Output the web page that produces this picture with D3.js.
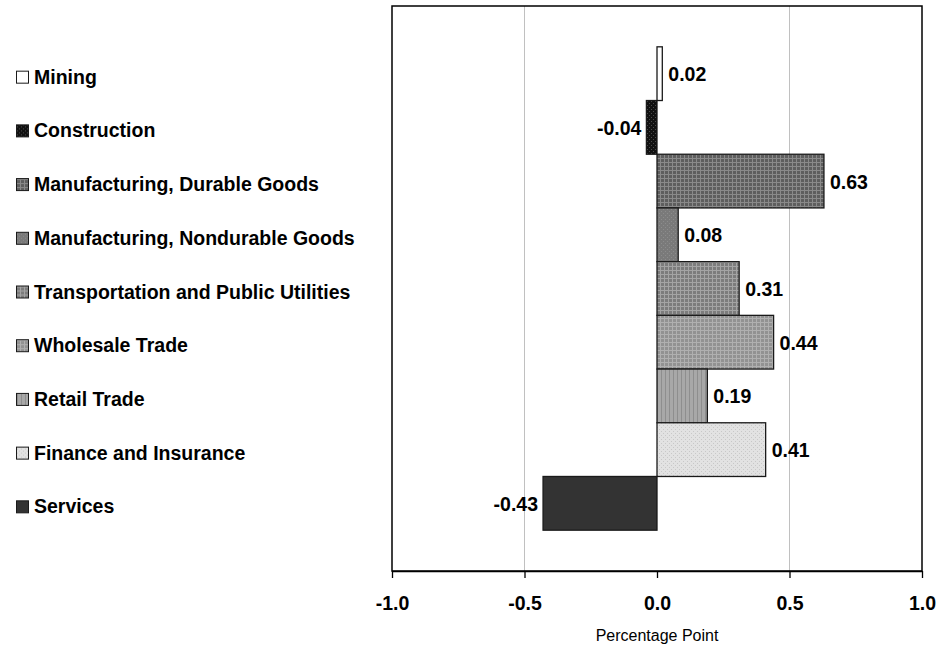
<!DOCTYPE html>
<html>
<head>
<meta charset="utf-8">
<script src="https://cdn.jsdelivr.net/npm/d3@7"></script>
<style>
  body { margin: 0; background: #fff; }
  text { font-family: "Liberation Sans", Arial, sans-serif; }
</style>
</head>
<body>
<svg id="chart" width="938" height="651"></svg>
<script>
// ----------

const CATEGORIES = [
  "Mining",
  "Construction",
  "Manufacturing, Durable Goods",
  "Manufacturing, Nondurable Goods",
  "Transportation and Public Utilities",
  "Wholesale Trade",
  "Retail Trade",
  "Finance and Insurance",
  "Services"
];
const VALUES = [0.02, -0.04, 0.63, 0.08, 0.31, 0.44, 0.19, 0.41, -0.43];
const VALUE_LABELS = ["0.02", "-0.04", "0.63", "0.08", "0.31", "0.44", "0.19", "0.41", "-0.43"];
const X_TICKS = [-1.0, -0.5, 0.0, 0.5, 1.0];
const X_GRID = [-0.5, 0.5];
const X_TITLE = "Percentage Point";

// fill: base tone + dot tone for the little texture
const FILLS = [
  { base: "#ffffff", dot: "#ffffff", kind: "solid" },
  { base: "#111111", dot: "#4a4a4a", kind: "dots" },
  { base: "#5e5e5e", dot: "#8a8a8a", kind: "grid" },
  { base: "#7a7a7a", dot: "#8c8c8c", kind: "dots" },
  { base: "#7c7c7c", dot: "#a4a4a4", kind: "grid" },
  { base: "#929292", dot: "#b0b0b0", kind: "grid" },
  { base: "#a8a8a8", dot: "#8e8e8e", kind: "vstripe" },
  { base: "#e2e2e2", dot: "#c8c8c8", kind: "dots" },
  { base: "#333333", dot: "#333333", kind: "solid" }
];

const BOLD_SIZE = 19.5;

// ----------

const svg = d3.select("#chart");
const margin = { left: 392, right: 16, top: 6, bottom: 80 };
const width = 938 - margin.left - margin.right;
const height = 651 - margin.top - margin.bottom;

const defs = svg.append("defs");
FILLS.forEach(function (f, i) {
  const p = defs.append("pattern")
    .attr("id", "pat" + i)
    .attr("patternUnits", "userSpaceOnUse")
    .attr("width", 4)
    .attr("height", 4);
  p.append("rect").attr("width", 4).attr("height", 4).attr("fill", f.base);
  if (f.kind === "dots") {
    p.append("rect").attr("x", 1).attr("y", 1).attr("width", 1).attr("height", 1).attr("fill", f.dot);
    p.append("rect").attr("x", 3).attr("y", 3).attr("width", 1).attr("height", 1).attr("fill", f.dot);
  } else if (f.kind === "grid") {
    p.append("rect").attr("x", 0).attr("y", 0).attr("width", 4).attr("height", 1).attr("fill", f.dot);
    p.append("rect").attr("x", 0).attr("y", 0).attr("width", 1).attr("height", 4).attr("fill", f.dot);
  } else if (f.kind === "vstripe") {
    p.append("rect").attr("x", 1).attr("y", 0).attr("width", 1).attr("height", 4).attr("fill", f.dot);
  }
});

const x = d3.scaleLinear().domain([-1, 1]).range([0, width]);
const y = d3.scaleBand().domain(CATEGORIES).range([0, height]).paddingInner(0).paddingOuter(0.76);

const g = svg.append("g").attr("transform", "translate(" + margin.left + "," + margin.top + ")");

// gridlines
g.selectAll(".grid")
  .data(X_GRID)
  .enter()
  .append("line")
  .attr("x1", d => x(d)).attr("x2", d => x(d))
  .attr("y1", 0).attr("y2", height)
  .attr("stroke", "#c0c0c0")
  .attr("stroke-width", 1);

// bars
g.selectAll(".bar")
  .data(VALUES)
  .enter()
  .append("rect")
  .attr("x", d => x(Math.min(0, d)))
  .attr("width", d => Math.abs(x(d) - x(0)))
  .attr("y", (d, i) => y(CATEGORIES[i]))
  .attr("height", y.bandwidth())
  .attr("fill", (d, i) => "url(#pat" + i + ")")
  .attr("stroke", "#1a1a1a")
  .attr("stroke-width", 1.3);

// value labels
g.selectAll(".val")
  .data(VALUES)
  .enter()
  .append("text")
  .attr("x", d => d >= 0 ? x(d) + 6 : x(d) - 5)
  .attr("y", (d, i) => y(CATEGORIES[i]) + y.bandwidth() / 2 + 7.5)
  .attr("text-anchor", d => d >= 0 ? "start" : "end")
  .attr("font-size", BOLD_SIZE)
  .attr("font-weight", "bold")
  .text((d, i) => VALUE_LABELS[i]);

// frame
g.append("rect")
  .attr("x", 0).attr("y", 0)
  .attr("width", width).attr("height", height)
  .attr("fill", "none")
  .attr("stroke", "#000")
  .attr("stroke-width", 1.5);

// x axis
const xAxis = g.append("g")
  .attr("transform", "translate(0," + height + ")")
  .call(d3.axisBottom(x).tickValues(X_TICKS).tickFormat(d => d.toFixed(1)).tickSizeInner(7).tickSizeOuter(0));
xAxis.select(".domain").attr("stroke", "#000").attr("stroke-width", 1.5);
xAxis.selectAll(".tick line").attr("stroke", "#000").attr("stroke-width", 1.3);
xAxis.selectAll(".tick text")
  .attr("font-family", "Liberation Sans, Arial, sans-serif")
  .attr("font-size", BOLD_SIZE)
  .attr("font-weight", "bold")
  .attr("fill", "#000")
  .attr("dy", null)
  .attr("y", 39);

svg.append("text")
  .attr("x", margin.left + x(0))
  .attr("y", 641)
  .attr("text-anchor", "middle")
  .attr("font-size", 16)
  .text(X_TITLE);

// legend
const legend = svg.append("g");
const items = legend.selectAll(".item")
  .data(CATEGORIES)
  .enter()
  .append("g")
  .attr("transform", d => "translate(16," + (margin.top + y(d) + y.bandwidth() / 2 + 10) + ")");
items.append("rect")
  .attr("x", 0.5).attr("y", -12.5)
  .attr("width", 12).attr("height", 12)
  .attr("fill", (d, i) => "url(#pat" + i + ")")
  .attr("stroke", "#1a1a1a")
  .attr("stroke-width", 1);
items.append("text")
  .attr("x", 18)
  .attr("y", 0)
  .attr("font-size", BOLD_SIZE)
  .attr("font-weight", "bold")
  .text(d => d);
</script>
</body>
</html>
